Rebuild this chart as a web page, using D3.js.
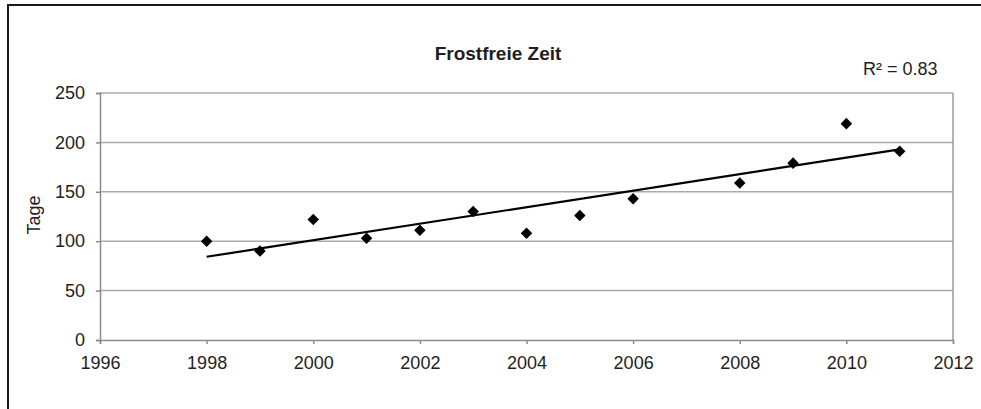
<!DOCTYPE html>
<html>
<head>
<meta charset="utf-8">
<script src="https://cdn.jsdelivr.net/npm/d3@7"></script>
<style>
  html, body { margin: 0; padding: 0; background: #fff; }
  svg { display: block; }
  text { font-family: "Liberation Sans", Arial, sans-serif; fill: #1e1e1e; }
</style>
</head>
<body>
<svg id="chart" width="981" height="409"></svg>
<script>
// ---- data ----
const years  = [1998, 1999, 2000, 2001, 2002, 2003, 2004, 2005, 2006, 2008, 2009, 2010, 2011];
const tage   = [100,   90,  122,  103,  111,  130,  108,  126,  143,  159,  179,  219,  191];
const xTicks = [1996, 1998, 2000, 2002, 2004, 2006, 2008, 2010, 2012];
const yTicks = [0, 50, 100, 150, 200, 250];
const title  = "Frostfreie Zeit";
const yLabel = "Tage";
const r2Label = "R² = 0.83";

// ---- layout ----
const W = 981, H = 409;
const plot = { left: 100, right: 953, top: 93, bottom: 340 };

const svg = d3.select("#chart");

// outer frame (left + top border lines)
svg.append("path")
  .attr("d", `M8,${H} L8,5 L${W},5`)
  .attr("fill", "none")
  .attr("stroke", "#1a1a1a")
  .attr("stroke-width", 2);

const x = d3.scaleLinear().domain([1996, 2012]).range([plot.left, plot.right]);
const y = d3.scaleLinear().domain([0, 250]).range([plot.bottom, plot.top]);

// gridlines
svg.append("g")
  .selectAll("line")
  .data(yTicks.filter(d => d > 0))
  .join("line")
  .attr("x1", plot.left).attr("x2", plot.right)
  .attr("y1", d => y(d)).attr("y2", d => y(d))
  .attr("stroke", "#ababab")
  .attr("stroke-width", 1.5);

// right border of plot
svg.append("line")
  .attr("x1", plot.right).attr("x2", plot.right)
  .attr("y1", plot.top).attr("y2", plot.bottom)
  .attr("stroke", "#9a9a9a").attr("stroke-width", 1.5);

// axes
const yAxis = svg.append("g")
  .attr("transform", `translate(${plot.left},0)`)
  .call(d3.axisLeft(y).tickValues(yTicks).tickSize(4).tickPadding(11).tickFormat(d3.format("d")));
const xAxis = svg.append("g")
  .attr("transform", `translate(0,${plot.bottom})`)
  .call(d3.axisBottom(x).tickValues(xTicks).tickSize(4).tickPadding(12).tickFormat(d3.format("d")));

[yAxis, xAxis].forEach(a => {
  a.select(".domain").attr("stroke", "#8c8c8c").attr("stroke-width", 1.5);
  a.selectAll(".tick line").attr("stroke", "#8c8c8c").attr("stroke-width", 1.5);
  a.selectAll(".tick text")
    .attr("font-family", "Liberation Sans, Arial, sans-serif")
    .attr("font-size", 18)
    .attr("fill", "#1e1e1e");
});

// trendline (least squares fit of the series)
const n = years.length;
const mx = d3.mean(years), my = d3.mean(tage);
let sxy = 0, sxx = 0;
for (let i = 0; i < n; i++) { sxy += (years[i] - mx) * (tage[i] - my); sxx += (years[i] - mx) ** 2; }
const slope = sxy / sxx, icpt = my - slope * mx;
const x0 = d3.min(years), x1 = d3.max(years);
svg.append("line")
  .attr("x1", x(x0)).attr("y1", y(icpt + slope * x0))
  .attr("x2", x(x1)).attr("y2", y(icpt + slope * x1))
  .attr("stroke", "#000").attr("stroke-width", 2.2);

// diamond markers
const diamond = d3.symbol().type(d3.symbolDiamond2).size(85);
svg.append("g")
  .selectAll("path")
  .data(years.map((yr, i) => ({ yr, v: tage[i] })))
  .join("path")
  .attr("transform", d => `translate(${x(d.yr)},${y(d.v)})`)
  .attr("d", diamond)
  .attr("fill", "#000");

// title
svg.append("text")
  .attr("x", 498).attr("y", 60)
  .attr("text-anchor", "middle")
  .attr("font-size", 19)
  .attr("font-weight", "bold")
  .text(title);

// R² label
svg.append("text")
  .attr("x", 863).attr("y", 75)
  .attr("font-size", 18)
  .text(r2Label);

// y label
svg.append("text")
  .attr("transform", "translate(40,215) rotate(-90)")
  .attr("text-anchor", "middle")
  .attr("font-size", 18)
  .text(yLabel);
</script>
</body>
</html>
